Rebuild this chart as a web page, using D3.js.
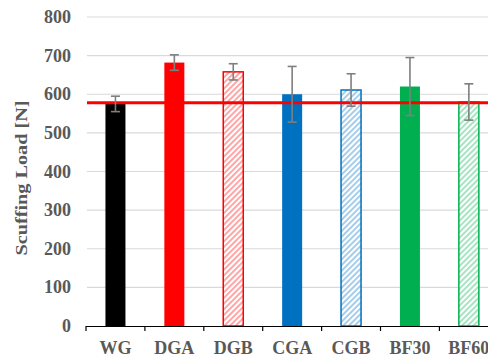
<!DOCTYPE html>
<html><head><meta charset="utf-8">
<script src="https://cdn.jsdelivr.net/npm/d3@7"></script>
<style>html,body{margin:0;padding:0;background:#fff;overflow:hidden}</style>
</head><body>
<svg id="c" width="488" height="360"></svg>
<script>
const categories = ["WG","DGA","DGB","CGA","CGB","BF30","BF60"];
const values = [575, 682, 658, 600, 611, 620, 580];
const errors = [20, 20, 21, 72, 42, 75, 47];
const colors = ["#000000","#FF0000","#FF0000","#0070C0","#0070C0","#00B050","#00B050"];
const hatched = [false,false,true,false,true,false,true];
const yTicks = [0,100,200,300,400,500,600,700,800];
const refLine = 578;

const FONT = "Liberation Serif, Times New Roman, serif";
const svg = d3.select("#c");
const x = d3.scaleBand().domain(categories).range([86, 86 + 7*58.9]).padding(0);
const y = d3.scaleLinear().domain([0, 800]).range([326, 17]);
const barW = 20;

const defs = svg.append("defs");
categories.forEach((c,i)=>{
  if(!hatched[i]) return;
  const p = defs.append("pattern").attr("id","h"+i).attr("patternUnits","userSpaceOnUse")
    .attr("width",4).attr("height",4).attr("patternTransform","rotate(45)");
  p.append("rect").attr("width",4).attr("height",4).attr("fill","#fff");
  p.append("rect").attr("width",2).attr("height",4).attr("fill",colors[i]).attr("opacity",0.35);
});

// gridlines
svg.append("g").selectAll("line").data(yTicks.slice(1)).join("line")
  .attr("x1",87).attr("x2",488).attr("y1",d=>y(d)).attr("y2",d=>y(d))
  .attr("stroke","#d9d9d9").attr("stroke-width",1.2);

// y tick labels
svg.append("g").selectAll("text").data(yTicks).join("text")
  .attr("x",71).attr("y",d=>y(d)+6).attr("text-anchor","end")
  .attr("font-family",FONT).attr("font-weight","bold")
  .attr("font-size",18).attr("fill","#595959").text(d=>d);

// y axis title
svg.append("text").attr("transform","translate(27,178) rotate(-90)").attr("text-anchor","middle")
  .attr("font-family",FONT).attr("font-weight","bold")
  .attr("font-size",16).attr("textLength",155).attr("lengthAdjust","spacingAndGlyphs")
  .attr("fill","#595959").text("Scuffing Load [N]");

// bars
svg.append("g").selectAll("rect").data(categories).join("rect")
  .attr("x",(d)=>x(d)+x.bandwidth()/2-barW/2)
  .attr("y",(d,i)=>y(values[i]))
  .attr("width",barW)
  .attr("height",(d,i)=>y(0)-y(values[i]))
  .attr("fill",(d,i)=>hatched[i] ? "url(#h"+i+")" : colors[i])
  .attr("stroke",(d,i)=>hatched[i] ? colors[i] : "none")
  .attr("stroke-width",1.5);

// red reference line
svg.append("line").attr("x1",87).attr("x2",488).attr("y1",y(refLine)).attr("y2",y(refLine))
  .attr("stroke","#FF0000").attr("stroke-width",2.8);

// error bars
const eg = svg.append("g").attr("stroke","#7f7f7f").attr("stroke-width",1.6);
categories.forEach((c,i)=>{
  const cx = x(c)+x.bandwidth()/2;
  eg.append("line").attr("x1",cx).attr("x2",cx).attr("y1",y(values[i]+errors[i])).attr("y2",y(values[i]-errors[i]));
  [values[i]+errors[i], values[i]-errors[i]].forEach(v=>{
    eg.append("line").attr("x1",cx-4.5).attr("x2",cx+4.5).attr("y1",y(v)).attr("y2",y(v));
  });
});

// x axis
const xa = svg.append("g");
xa.append("line").attr("x1",86).attr("x2",488).attr("y1",326.5).attr("y2",326.5).attr("stroke","#000").attr("stroke-width",1.2);
xa.selectAll("line.t").data(d3.range(8)).join("line").attr("class","t")
  .attr("x1",i=>86+i*x.step()).attr("x2",i=>86+i*x.step())
  .attr("y1",326).attr("y2",331).attr("stroke","#000").attr("stroke-width",1.2);
xa.selectAll("text").data(categories).join("text")
  .attr("x",d=>x(d)+x.bandwidth()/2).attr("y",354).attr("text-anchor","middle")
  .attr("font-family",FONT).attr("font-weight","bold")
  .attr("font-size",18).attr("fill","#595959").text(d=>d);
</script>
</body></html>
